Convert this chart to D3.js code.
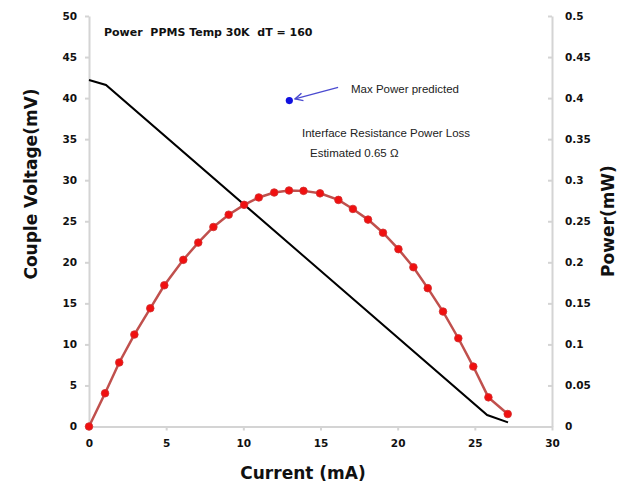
<!DOCTYPE html>
<html>
<head>
<meta charset="utf-8">
<script src="https://cdn.jsdelivr.net/npm/d3@7"></script>
<style>
  body { margin: 0; background: #fff; }
  .as path, .as line { stroke: #d4d4d4; stroke-width: 2; }
  .as text { font-family: "DejaVu Sans", sans-serif; font-weight: bold; font-size: 10.5px; fill: #111; }
  .titelAs { font-family: "DejaVu Sans", sans-serif; font-weight: bold; font-size: 17px; fill: #111; }
  .notitie { font-family: "Liberation Sans", Arial, sans-serif; font-size: 11.5px; fill: #222; }
</style>
</head>
<body>
<div id="grafiek"></div>
<script>

// measured current (mA) for the power points
var stroom = [0, 1.04, 1.96, 2.94, 3.97, 4.88, 6.11, 7.08, 8.06, 9.05, 10.05, 11.0, 12.0, 12.96,
              13.9, 14.97, 16.16, 17.1, 18.08, 19.05, 20.05, 21.02, 21.95, 22.94, 23.93, 24.9, 25.88, 27.13];

// power (mW), right axis
var vermogen = [0, 0.0405, 0.078, 0.112, 0.144, 0.172, 0.203, 0.224, 0.243, 0.258, 0.270, 0.279, 0.285, 0.2875,
                0.287, 0.284, 0.276, 0.265, 0.252, 0.236, 0.216, 0.194, 0.1685, 0.140, 0.1075, 0.073, 0.0355, 0.0152];

// couple voltage (mV), left axis -- only the visible vertices of the line
var stroomSpanning = [0, 1.1, 25.8, 27.15];
var spanning = [42.2, 41.6, 1.4, 0.5];

// predicted maximum power point and its arrow
var maxPunt = [12.98, 0.397];
var pijlVan = [16.14, 0.413];
var pijlNaar = [13.35, 0.399];

// tick labels
var xTicks = [0, 5, 10, 15, 20, 25, 30];
var linksTicks = [0, 5, 10, 15, 20, 25, 30, 35, 40, 45, 50];
var rechtsTicks = [0, 0.05, 0.1, 0.15, 0.2, 0.25, 0.3, 0.35, 0.4, 0.45, 0.5];

var breedte = 625, hoogte = 490;
var marge = {boven: 16, beneden: 63.5, rechts: 73, links: 89};

var svg = d3.select("#grafiek")
            .append("svg")
            .attr("width", breedte)
            .attr("height", hoogte);

// scales
var x = d3.scaleLinear().domain([0, 30]).range([marge.links, breedte - marge.rechts]);
var yLinks = d3.scaleLinear().domain([0, 50]).range([hoogte - marge.beneden, marge.boven]);
var yRechts = d3.scaleLinear().domain([0, 0.5]).range([hoogte - marge.beneden, marge.boven]);

// axes
svg.append("g")
   .attr("class", "as")
   .attr("transform", "translate(0," + (hoogte - marge.beneden) + ")")
   .call(d3.axisBottom(x).tickValues(xTicks).tickSizeInner(4).tickSizeOuter(0).tickPadding(9.5).tickFormat(d3.format("d")));

svg.append("g")
   .attr("class", "as")
   .attr("transform", "translate(" + marge.links + ",0)")
   .call(d3.axisLeft(yLinks).tickValues(linksTicks).tickSizeInner(4).tickSizeOuter(0).tickPadding(8).tickFormat(d3.format("d")));

svg.append("g")
   .attr("class", "as")
   .attr("transform", "translate(" + (breedte - marge.rechts) + ",0)")
   .call(d3.axisRight(yRechts).tickValues(rechtsTicks).tickSizeInner(-4).tickSizeOuter(0).tickPadding(13)
           .tickFormat(function(d) { return String(d); }));

// axis titles
svg.append("text")
   .attr("class", "titelAs")
   .attr("x", 303)
   .attr("y", 479)
   .attr("text-anchor", "middle")
   .text("Current (mA)");

svg.append("text")
   .attr("class", "titelAs")
   .attr("transform", "translate(37,184) rotate(-90)")
   .attr("text-anchor", "middle")
   .text("Couple Voltage(mV)");

svg.append("text")
   .attr("class", "titelAs")
   .attr("transform", "translate(614,221) rotate(-90)")
   .attr("text-anchor", "middle")
   .text("Power(mW)");

// voltage line
var spanningData = stroomSpanning.map(function(d, i) { return [d, spanning[i]]; });
svg.append("path")
   .datum(spanningData)
   .attr("fill", "none")
   .attr("stroke", "#000")
   .attr("stroke-width", 2)
   .attr("d", d3.line()
                .x(function(d) { return x(d[0]); })
                .y(function(d) { return yLinks(d[1]); }));

// power line with markers
var vermogenData = stroom.map(function(d, i) { return [d, vermogen[i]]; });
svg.append("path")
   .datum(vermogenData)
   .attr("fill", "none")
   .attr("stroke", "#c0504d")
   .attr("stroke-width", 2.5)
   .attr("d", d3.line()
                .x(function(d) { return x(d[0]); })
                .y(function(d) { return yRechts(d[1]); }));

svg.selectAll(".punt")
   .data(vermogenData)
   .enter()
   .append("circle")
   .attr("class", "punt")
   .attr("cx", function(d) { return x(d[0]); })
   .attr("cy", function(d) { return yRechts(d[1]); })
   .attr("r", 3.8)
   .attr("fill", "#f01010")
   .attr("stroke", "#d03030")
   .attr("stroke-width", 0.8);

// max power predicted
svg.append("circle")
   .attr("cx", x(maxPunt[0]))
   .attr("cy", yRechts(maxPunt[1]))
   .attr("r", 3.6)
   .attr("fill", "#1010e0");

svg.append("defs")
   .append("marker")
   .attr("id", "pijlpunt")
   .attr("viewBox", "0 0 10 10")
   .attr("refX", 9)
   .attr("refY", 5)
   .attr("markerWidth", 8)
   .attr("markerHeight", 8)
   .attr("orient", "auto")
   .append("path")
   .attr("d", "M1,1 L9,5 L1,9")
   .attr("fill", "none")
   .attr("stroke", "#4a4ad0")
   .attr("stroke-width", 1.5);

svg.append("line")
   .attr("x1", x(pijlVan[0]))
   .attr("y1", yRechts(pijlVan[1]))
   .attr("x2", x(pijlNaar[0]))
   .attr("y2", yRechts(pijlNaar[1]))
   .attr("stroke", "#4a4ad0")
   .attr("stroke-width", 1.2)
   .attr("marker-end", "url(#pijlpunt)");

// chart title and notes
svg.append("text")
   .attr("x", 104)
   .attr("y", 35.5)
   .attr("font-family", "DejaVu Sans, sans-serif")
   .attr("font-weight", "bold")
   .attr("font-size", "11px")
   .attr("fill", "#111")
   .style("white-space", "pre")
   .text("Power  PPMS Temp 30K  dT = 160");

svg.append("text")
   .attr("class", "notitie")
   .attr("x", 351)
   .attr("y", 93)
   .text("Max Power predicted");

svg.append("text")
   .attr("class", "notitie")
   .attr("x", 302)
   .attr("y", 136.5)
   .text("Interface Resistance Power Loss");

svg.append("text")
   .attr("class", "notitie")
   .attr("x", 310)
   .attr("y", 157)
   .text("Estimated 0.65 \u03A9");

</script>
</body>
</html>
